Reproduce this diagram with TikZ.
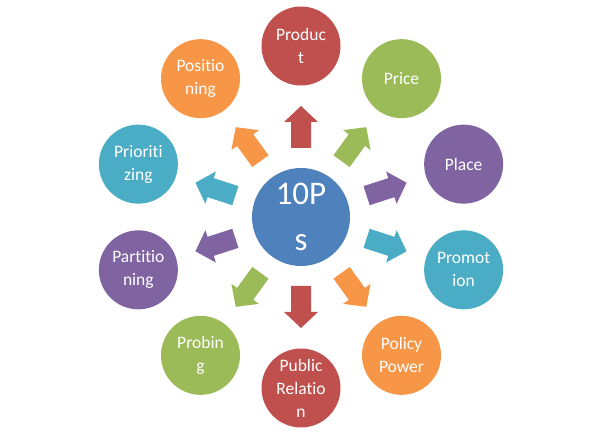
\documentclass[tikz,border=0pt]{standalone}
\usepackage{fontspec}
\setmainfont{Carlito}[Ligatures={NoCommon}]
\usetikzlibrary{calc}
\definecolor{cred}{HTML}{C0504D}
\definecolor{cgreen}{HTML}{9BBB59}
\definecolor{cpurple}{HTML}{8064A2}
\definecolor{cteal}{HTML}{4BACC6}
\definecolor{corange}{HTML}{F79646}
\definecolor{cblue}{HTML}{4F81BD}
\begin{document}
\begin{tikzpicture}[x=1pt,y=1pt,
  hub/.style={circle,fill=cblue,minimum size=98pt,inner sep=0pt,text=white,align=center,font=\fontsize{33}{46}\selectfont},
  item/.style={circle,minimum size=79pt,inner sep=0pt,text=white,align=center,font=\fontsize{17.5}{23}\selectfont},
  blockarrow/.style={fill=#1}]
\fill[white] (0,0) rectangle (600,436);
\useasboundingbox (0,0) rectangle (600,436);
\coordinate (O) at (301,219);
\node[hub] (hub) at (O) {10P\\s};
\foreach \ang/\col/\txt/\nm in {
  90/cred/{Produc\\t}/product,
  54/cgreen/{Price}/price,
  18/cpurple/{Place}/place,
  -18/cteal/{Promot\\ion}/promotion,
  -54/corange/{Policy\\Power}/policy,
  -90/cred/{Public\\Relatio\\n}/public,
  -126/cgreen/{Probin\\g}/probing,
  -162/cpurple/{Partitio\\ning}/partitioning,
  162/cteal/{Prioriti\\zing}/prioritizing,
  126/corange/{Positio\\ning}/positioning} {
  \node[item,fill=\col] (\nm) at ($(O)+(\ang:171)$) {\txt};
  \fill[blockarrow=\col, shift={(301,219)}, rotate=\ang]
    (69,-10) -- (95,-10) -- (95,-17) -- (111,0) -- (95,17) -- (95,10) -- (69,10) -- cycle;
}
\end{tikzpicture}
\end{document}
